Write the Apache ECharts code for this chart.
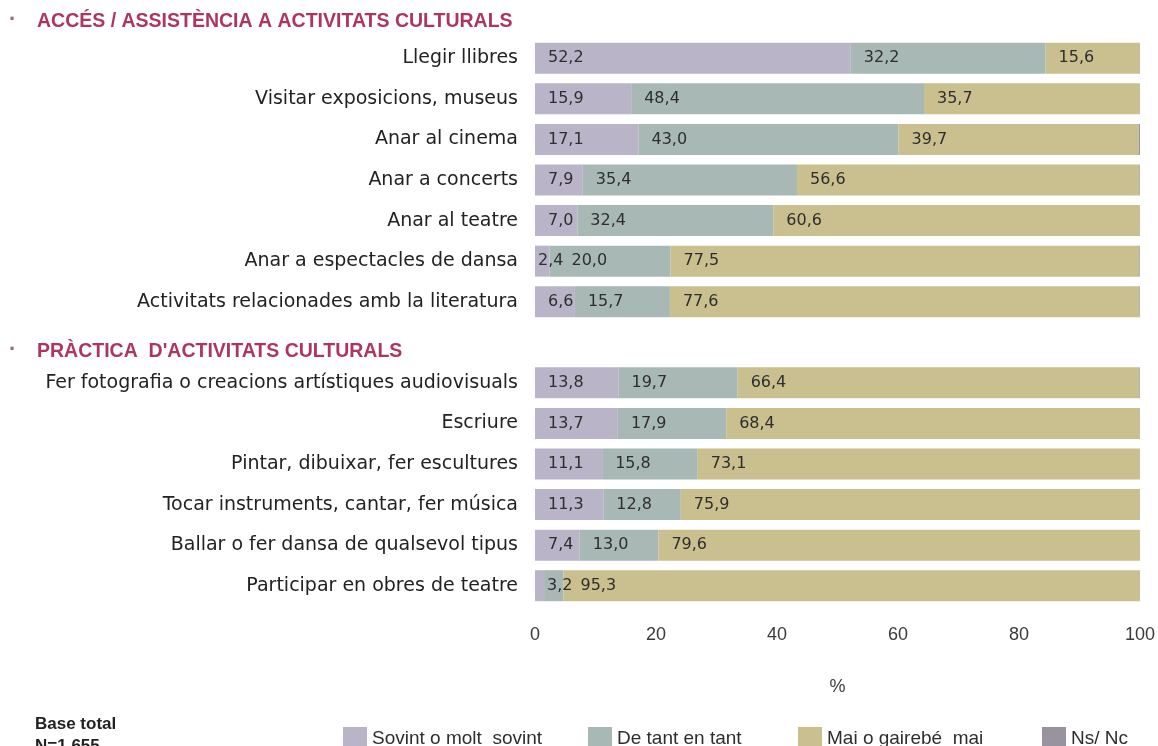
<!DOCTYPE html>
<html>
<head>
<meta charset="utf-8">
<script src="https://cdn.jsdelivr.net/npm/echarts@6/dist/echarts.min.js"></script>
<style>
  html, body { margin: 0; padding: 0; background: #fff; }
  #chart { width: 1158px; height: 746px; }
</style>
</head>
<body>
<div id="chart"></div>
<script>
// Dades
//------

// files (la buida és el lloc del segon títol)
var categories = [
  'Llegir llibres',
  'Visitar exposicions, museus',
  'Anar al cinema',
  'Anar a concerts',
  'Anar al teatre',
  'Anar a espectacles de dansa',
  'Activitats relacionades amb la literatura',
  '#h2',
  'Fer fotografia o creacions artístiques audiovisuals',
  'Escriure',
  'Pintar, dibuixar, fer escultures',
  'Tocar instruments, cantar, fer música',
  'Ballar o fer dansa de qualsevol tipus',
  'Participar en obres de teatre'
];

var sovint   = [52.2, 15.9, 17.1, 7.9, 7.0, 2.4, 6.6, null, 13.8, 13.7, 11.1, 11.3, 7.4, 1.5];
var deTant   = [32.2, 48.4, 43.0, 35.4, 32.4, 20.0, 15.7, null, 19.7, 17.9, 15.8, 12.8, 13.0, 3.2];
var maiGaire = [15.6, 35.7, 39.7, 56.6, 60.6, 77.5, 77.6, null, 66.4, 68.4, 73.1, 75.9, 79.6, 95.3];
var nsNc     = [0, 0.1, 0.2, 0.1, 0.1, 0.1, 0.1, null, 0.1, 0, 0, 0, 0, 0];

var seriesNames = ['Sovint o molt  sovint', 'De tant en tant', 'Mai o gairebé  mai', 'Ns/ Nc'];
var sectionTitles = ['ACCÉS / ASSISTÈNCIA A ACTIVITATS CULTURALS', "PRÀCTICA  D'ACTIVITATS CULTURALS"];
var xTicks = [0, 20, 40, 60, 80, 100];

var colors = ['#bab4c9', '#a8b8b4', '#cabf8f', '#98939e'];

// Mides
//------
var gridLeft = 535;
var gridRight = 16;
var pxPerUnit = (1158 - gridLeft - gridRight) / 100;

var titleColor = '#ad3560';

// text del valor: "52,2"
var fmtValue = function(v) {
  return v.toFixed(1).replace('.', ',');
};

// amplada aproximada de l'etiqueta (DejaVu Sans 16px)
var labelWidth = function(v) {
  var s = fmtValue(v);
  return (s.length - 1) * 10.2 + 5.1;
};

// calcula on va cada etiqueta perquè no es trepitgin
var stacks = [sovint, deTant, maiGaire];
var labelDist = stacks.map(function() { return []; });
for (var r = 0; r < categories.length; r++) {
  var acc = 0;
  var prevEnd = -1;
  for (var s = 0; s < stacks.length; s++) {
    var v = stacks[s][r];
    if (v == null) { labelDist[s][r] = 0; continue; }
    var segStart = acc * pxPerUnit;
    var d = v < 5 ? 3 : 13;
    var start = segStart + d;
    if (v >= 2) {
      if (prevEnd >= 0 && start < prevEnd + 8) start = prevEnd + 8;
      prevEnd = start + labelWidth(v);
    }
    labelDist[s][r] = start - segStart;
    acc += v;
  }
}

var buildData = function(values, s) {
  return values.map(function(v, r) {
    if (v == null) return null;
    return { value: v, label: { distance: labelDist[s][r] } };
  });
};

// Gràfic
//-------
var myChart = echarts.init(document.getElementById('chart'));

var makeSeries = function(name, data, showLabel) {
  return {
    name: name,
    type: 'bar',
    stack: 'total',
    barWidth: 31,
    data: data,
    label: {
      show: showLabel,
      position: 'insideLeft',
      formatter: function(p) { return p.value >= 2 ? fmtValue(p.value) : ''; },
      color: '#2e2e2e',
      fontSize: 16,
      fontFamily: 'DejaVu Sans'
    },
    emphasis: { disabled: true }
  };
};

var makeLegend = function(name, left) {
  return {
    left: left,
    top: 722,
    itemWidth: 24,
    itemHeight: 23,
    icon: 'rect',
    selectedMode: false,
    textStyle: { color: '#2e2e2e', fontSize: 19, fontFamily: 'Liberation Sans' },
    data: [name]
  };
};

var option = {
  animation: false,
  color: colors,
  grid: { left: gridLeft, right: gridRight, top: 38, bottom: 140, containLabel: false },
  xAxis: {
    type: 'value',
    min: 0,
    max: 100,
    interval: 20,
    splitLine: { show: false },
    axisLine: { show: false },
    axisTick: { show: false },
    axisLabel: {
      margin: 20,
      color: '#3a3a3a',
      fontSize: 18,
      fontFamily: 'Liberation Sans',
      formatter: function(v) { return xTicks.indexOf(v) >= 0 ? String(v) : ''; }
    },
    name: '%',
    nameLocation: 'middle',
    nameGap: 72,
    nameTextStyle: { color: '#3a3a3a', fontSize: 18, fontFamily: 'Liberation Sans' }
  },
  yAxis: {
    type: 'category',
    inverse: true,
    data: categories,
    axisLine: { show: false },
    axisTick: { show: false },
    axisLabel: {
      margin: 17,
      color: '#222',
      fontSize: 19,
      fontFamily: 'DejaVu Sans',
      formatter: function(v) { return v.charAt(0) === '#' ? '' : v; }
    }
  },
  legend: [
    makeLegend(seriesNames[0], 338),
    makeLegend(seriesNames[1], 583),
    makeLegend(seriesNames[2], 793),
    makeLegend(seriesNames[3], 1037)
  ],
  graphic: [
    { type: 'text', left: 9, top: 9, style: { text: '·', fill: '#8a6f80', font: 'bold 22px Liberation Sans' } },
    { type: 'text', left: 37, top: 12, style: { text: sectionTitles[0], fill: titleColor, font: 'bold 19.5px Liberation Sans' } },
    { type: 'text', left: 9, top: 339, style: { text: '·', fill: '#8a6f80', font: 'bold 22px Liberation Sans' } },
    { type: 'text', left: 37, top: 342, style: { text: sectionTitles[1], fill: titleColor, font: 'bold 19.5px Liberation Sans' } },
    { type: 'text', left: 35, top: 713, style: { text: 'Base total\nN=1.655', fill: '#222', font: 'bold 17px Liberation Sans', lineHeight: 22 } }
  ],
  series: [
    makeSeries(seriesNames[0], buildData(sovint, 0), true),
    makeSeries(seriesNames[1], buildData(deTant, 1), true),
    makeSeries(seriesNames[2], buildData(maiGaire, 2), true),
    makeSeries(seriesNames[3], nsNc, false)
  ]
};

myChart.setOption(option);

window.addEventListener('resize', function() {
  myChart.resize();
});
</script>
</body>
</html>
